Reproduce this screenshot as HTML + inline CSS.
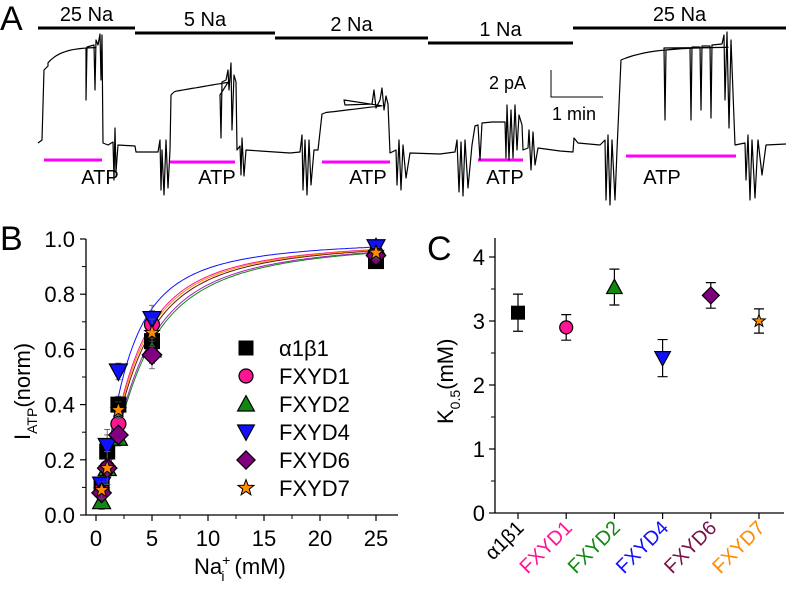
<!DOCTYPE html>
<html><head><meta charset="utf-8"><style>
html,body{margin:0;padding:0;background:#fff;}
svg{display:block;font-family:"Liberation Sans",sans-serif;}
</style></head><body>
<svg id="fig" width="786" height="589" viewBox="0 0 786 589">
<g id="panelA"></g>
<g id="panelB"></g>
<g id="panelC"></g>
</svg>
<script>
// ---------- Panel B data ----------
const naConc = [0.5, 1, 2, 5, 25];
const seriesNames = ["α1β1","FXYD1","FXYD2","FXYD4","FXYD6","FXYD7"];
const valsA1B1 = [0.10, 0.23, 0.40, 0.63, 0.92];
const valsFXYD1 = [0.09, 0.17, 0.33, 0.69, 0.94];
const valsFXYD2 = [0.05, 0.17, 0.28, 0.60, 0.97];
const valsFXYD4 = [0.11, 0.25, 0.52, 0.71, 0.97];
const valsFXYD6 = [0.08, 0.17, 0.29, 0.58, 0.94];
const valsFXYD7 = [0.09, 0.17, 0.38, 0.66, 0.95];
const errB = [0.03, 0.06, 0.03, 0.05, 0.02];
const yTicksB = [0, 0.2, 0.4, 0.6, 0.8, 1.0];
const yTickLabelsB = ["0.0","0.2","0.4","0.6","0.8","1.0"];
const xTicksB = [0, 5, 10, 15, 20, 25];
// ---------- Panel C data ----------
const kCategories = ["α1β1","FXYD1","FXYD2","FXYD4","FXYD6","FXYD7"];
const kValues = [3.13, 2.90, 3.53, 2.42, 3.40, 3.00];
const kErrors = [0.29, 0.20, 0.28, 0.29, 0.20, 0.19];
const yTicksC = [0, 1, 2, 3, 4];

const NS = "http://www.w3.org/2000/svg";
function mk(parent, tag, attrs, text){
  const e = document.createElementNS(NS, tag);
  for (const k in attrs) e.setAttribute(k, attrs[k]);
  if (text !== undefined) e.textContent = text;
  parent.appendChild(e);
  return e;
}
const fill = ["#000","#ff1493","#118811","#1010ff","#800080","#ff8c00"];
const labelCol = ["#000","#ff1493","#118811","#1010ff","#7a1048","#ff8c00"];
const curveCol = ["#5a1a00","#ff1493","#118811","#1010ff","#a020c0","#ff8c00"];
const seriesVals = [valsA1B1, valsFXYD1, valsFXYD2, valsFXYD4, valsFXYD6, valsFXYD7];

function marker(g, type, cx, cy, s, col){
  let e;
  if (type===0) e = mk(g,"rect",{x:cx-s,y:cy-s,width:2*s,height:2*s,fill:col,stroke:"#000","stroke-width":1});
  else if (type===1) e = mk(g,"circle",{cx:cx,cy:cy,r:s,fill:col,stroke:"#000","stroke-width":1.2});
  else if (type===2) e = mk(g,"polygon",{points:`${cx},${cy-s*1.2} ${cx-s*1.2},${cy+s} ${cx+s*1.2},${cy+s}`,fill:col,stroke:"#000","stroke-width":1.2});
  else if (type===3) e = mk(g,"polygon",{points:`${cx},${cy+s*1.2} ${cx-s*1.2},${cy-s} ${cx+s*1.2},${cy-s}`,fill:col,stroke:"#000","stroke-width":1.2});
  else if (type===4) e = mk(g,"polygon",{points:`${cx},${cy-s*1.3} ${cx+s*1.3},${cy} ${cx},${cy+s*1.3} ${cx-s*1.3},${cy}`,fill:col,stroke:"#000","stroke-width":1.2});
  else {
    let p=[]; for(let i=0;i<10;i++){const r=i%2?s*0.5:s*1.2;const a=-Math.PI/2+i*Math.PI/5;p.push((cx+r*Math.cos(a)).toFixed(1)+","+(cy+r*Math.sin(a)).toFixed(1));}
    e = mk(g,"polygon",{points:p.join(" "),fill:col,stroke:"#000","stroke-width":1});
  }
  return e;
}

// ---------- Panel A ----------
(function(){
  const g = document.getElementById("panelA");
  mk(g,"text",{x:0,y:30,"font-size":34},"A");
  const bars = [["25 Na",38,135,28],["5 Na",135,275,33],["2 Na",275,428,38],["1 Na",428,573,43],["25 Na",573,786,28]];
  bars.forEach((b,i)=>{
    const l = mk(g,"line",{x1:b[1],x2:b[2],y1:b[3],y2:b[3],stroke:"#000","stroke-width":3});
    
    
    const t = mk(g,"text",{x:(b[1]+b[2])/2,y:b[3]-7,"font-size":20,"text-anchor":"middle"},b[0]);
    
    
  });
  const atp = [[44,102,160,100],[170,235,162,217],[322,390,162,368],[478,523,160,505],[626,736,156,662]];
  atp.forEach(a=>{
    const l = mk(g,"line",{x1:a[0],x2:a[1],y1:a[2],y2:a[2],stroke:"#ff00ff","stroke-width":3});
    
    
    const t = mk(g,"text",{x:a[3],y:184,"font-size":20,"text-anchor":"middle"},"ATP");
    
    
  });
  let d = "M38,143 L42,140 L44,70 L48,66 ";
  for(let x=48;x<=96;x+=3){ const y=47+21*Math.exp(-(x-44)/14); d+=`L${x},${y.toFixed(1)} `; }
  d += "L86,48 L86,100 L87,47 L94,45 L95,90 L96,40 L98,45 L100,34 L101,80 L102,35 L103,143 L108,145 L113,142 L114,180 L115,128 L116,172 L118,145 L135,146 L136,152 L158,152 L160,140 L161,190 L162,150 L164,195 L166,140 L168,188 L170,150 L171,95 L174,92 ";
  for(let x=176;x<=228;x+=4){ d+=`L${x},${(92-(x-171)*0.17).toFixed(1)} `; }
  d += "L220,95 L221,138 L222,82 L226,80 L228,70 L229,90 L231,63 L232,130 L234,75 L236,82 L237,150 L240,146 L241,175 L242,138 L244,176 L246,150 L260,151 L290,153 L300,152 L302,135 L303,190 L305,140 L307,195 L309,140 L311,185 L314,150 L318,150 L322,114 ";
  for(let x=326;x<=384;x+=4){ d+=`L${x},${(113-(x-322)*0.12).toFixed(1)} `; }
  d += "L344,100 L345,105 L372,104 L374,90 L376,108 L380,100 L382,88 L384,110 L386,96 L388,104 L390,153 L396,150 L397,185 L399,140 L401,190 L403,145 L406,178 L410,153 L440,154 L455,152 L457,140 L459,192 L461,142 L463,196 L465,140 L468,188 L472,145 L475,126 L478,125 L480,160 L482,123 L492,122 L505,122 L506,158 L507,105 L509,160 L511,110 L513,158 L515,105 L517,150 L519,115 L522,125 L523,150 L528,148 L529,130 L531,170 L533,132 L535,165 L538,148 L560,151 L573,152 L574,138 L578,143 L600,145 L605,140 L606,200 L608,135 L610,205 L612,140 L615,200 L617,150 L621,60 ";
  for(let x=626;x<=730;x+=6){ d+=`L${x},${(47+13*Math.exp(-(x-621)/30)).toFixed(1)} `; }
  d += "L664,48 L665,120 L666,50 L690,48 L691,120 L692,47 L700,47 L701,110 L702,46 L710,46 L711,118 L712,45 L722,44 L724,35 L725,100 L727,32 L729,128 L731,40 L735,145 L745,143 L746,180 L748,135 L750,200 L752,140 L755,198 L758,140 L762,175 L766,145 L786,144";
  const p = mk(g,"path",{d:d,fill:"none",stroke:"#000","stroke-width":1.2,"stroke-linejoin":"round"});
  
  
  mk(g,"path",{d:"M551,70 L551,97 L603,97",fill:"none",stroke:"#000","stroke-width":1});
  mk(g,"text",{x:489,y:89,"font-size":18},"2 pA");
  mk(g,"text",{x:552,y:120,"font-size":18},"1 min");
})();

// ---------- Panel B ----------
(function(){
  const g = document.getElementById("panelB");
  const X0=96, XS=11.2, Y0=515, YS=276;
  const sx = v=>X0+v*XS, sy=v=>Y0-v*YS;
  mk(g,"text",{x:0,y:250,"font-size":34},"B");
  mk(g,"line",{x1:86,y1:239,x2:86,y2:515,stroke:"#000","stroke-width":1.3});
  mk(g,"line",{x1:86,y1:515,x2:398,y2:515,stroke:"#000","stroke-width":1.3});
  yTicksB.forEach((v,i)=>{
    mk(g,"line",{x1:86,x2:80,y1:sy(v),y2:sy(v),stroke:"#000","stroke-width":1.2});
    if(i<yTicksB.length-1) mk(g,"line",{x1:86,x2:82,y1:sy(v+0.1),y2:sy(v+0.1),stroke:"#000","stroke-width":1});
    const t=mk(g,"text",{x:75,y:sy(v)+8,"font-size":22,"text-anchor":"end"},yTickLabelsB[i]);
    
    
  });
  xTicksB.forEach((v,i)=>{
    mk(g,"line",{x1:sx(v),x2:sx(v),y1:515,y2:521,stroke:"#000","stroke-width":1.2});
    if(i<xTicksB.length-1) mk(g,"line",{x1:sx(v+2.5),x2:sx(v+2.5),y1:515,y2:519,stroke:"#000","stroke-width":1});
    const t=mk(g,"text",{x:sx(v),y:546,"font-size":22,"text-anchor":"middle"},String(v));
    
    
  });
  const yl = mk(g,"text",{x:0,y:0,"font-size":22,transform:"translate(30,440) rotate(-90)"});
  yl.innerHTML = 'I<tspan font-size="14" dy="7">ATP</tspan><tspan dy="-7">(norm)</tspan>';
  
  const xl = mk(g,"text",{x:194,y:574,"font-size":22});
  xl.innerHTML = 'Na<tspan font-size="14" dy="-9">+</tspan><tspan font-size="14" dy="16" dx="-9">i</tspan><tspan dy="-7" dx="4"> (mM)</tspan>';
  
  seriesVals.forEach((vals,si)=>{
    const K=kValues[si]; let d="";
    for(let x=0.5;x<=25.01;x+=0.25){ const y=1/(1+Math.pow(K/x,1.5)); d+=(d?"L":"M")+sx(x).toFixed(1)+","+sy(y).toFixed(1); }
    const c=mk(g,"path",{d:d,fill:"none",stroke:curveCol[si],"stroke-width":1});
    
    
  });
  seriesVals.forEach((vals,si)=>{
    vals.forEach((v,j)=>{
      const x=sx(naConc[j]);
      const e=mk(g,"path",{d:`M${x},${sy(v-errB[j])}V${sy(v+errB[j])}M${x-3},${sy(v+errB[j])}h6M${x-3},${sy(v-errB[j])}h6`,stroke:"#555","stroke-width":0.8,fill:"none"});
      
      
      const m=marker(g,si,x,sy(v),si===5?6.5:7.5,fill[si]);
      
      
    });
  });
  seriesNames.forEach((n,i)=>{
    const y=348+i*28;
    const m=marker(g,i,246,y,7,fill[i]);
    
    
    const t=mk(g,"text",{x:279,y:y+8,"font-size":22},n);
    
    
  });
})();

// ---------- Panel C ----------
(function(){
  const g = document.getElementById("panelC");
  const Y0=513, YS=64, X0=518, XS=48.2;
  const sy=v=>Y0-v*YS, sx=i=>X0+i*XS;
  mk(g,"text",{x:427,y:260,"font-size":34},"C");
  mk(g,"line",{x1:495,y1:238,x2:495,y2:513,stroke:"#000","stroke-width":1.3});
  mk(g,"line",{x1:495,y1:513,x2:784,y2:513,stroke:"#000","stroke-width":1.3});
  yTicksC.forEach((v,i)=>{
    mk(g,"line",{x1:495,x2:489,y1:sy(v),y2:sy(v),stroke:"#000","stroke-width":1.2});
    if(i<yTicksC.length-1) mk(g,"line",{x1:495,x2:491,y1:sy(v+0.5),y2:sy(v+0.5),stroke:"#000","stroke-width":1});
    const t=mk(g,"text",{x:485,y:sy(v)+8,"font-size":22,"text-anchor":"end"},String(v));
    
    
  });
  const yl = mk(g,"text",{x:0,y:0,"font-size":22,transform:"translate(453,424) rotate(-90)"});
  yl.innerHTML = 'K<tspan font-size="14" dy="7">0.5</tspan><tspan dy="-7">(mM)</tspan>';
  
  kCategories.forEach((c,i)=>{
    const x=sx(i);
    mk(g,"line",{x1:x,x2:x,y1:513,y2:519,stroke:"#000","stroke-width":1.2});
    const t=mk(g,"text",{x:0,y:0,"font-size":20,"text-anchor":"end",fill:labelCol[i],transform:`translate(${x+7},${529}) rotate(-45)`},c);
    
    
    const v=kValues[i], e=kErrors[i];
    const eb=mk(g,"path",{d:`M${x},${sy(v-e)}V${sy(v+e)}M${x-5},${sy(v+e)}h10M${x-5},${sy(v-e)}h10`,stroke:"#000","stroke-width":1.2,fill:"none"});
    
    
    const m=marker(g,i,x,sy(v),i===5?5.5:6.5,fill[i]);
    
    
  });
})();
</script>
</body></html>
